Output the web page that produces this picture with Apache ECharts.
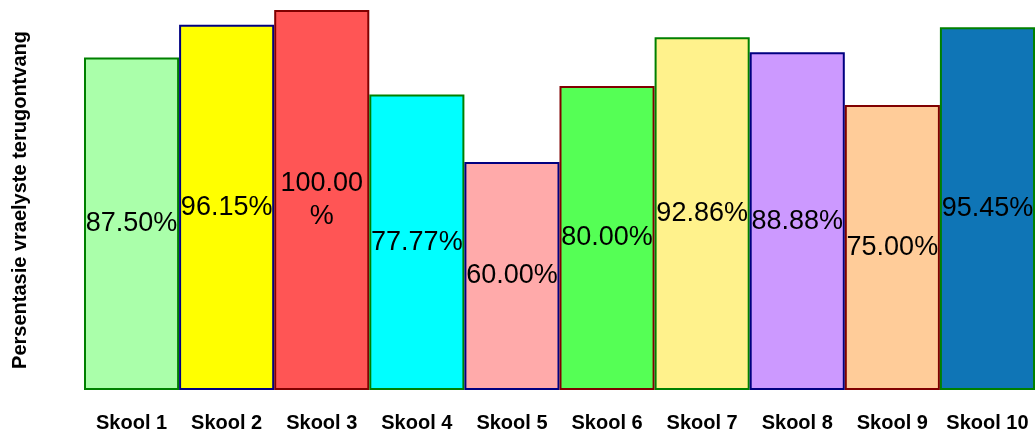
<!DOCTYPE html>
<html>
<head>
<meta charset="utf-8">
<script src="https://cdn.jsdelivr.net/npm/echarts@6/dist/echarts.min.js"></script>
<style>html,body{margin:0;padding:0;background:#fff}#c{width:1036px;height:431px}</style>
</head>
<body>
<div id="c"></div>
<script>
const categories = ['Skool 1','Skool 2','Skool 3','Skool 4','Skool 5','Skool 6','Skool 7','Skool 8','Skool 9','Skool 10'];
const values = [87.50, 96.15, 100.00, 77.77, 60.00, 80.00, 92.86, 88.88, 75.00, 95.45];
const fillColors = ['#AAFFAA','#FFFF00','#FF5555','#00FFFF','#FFAAAA','#55FF55','#FFF28C','#CC99FF','#FFCC99','#0F75B6'];
const borderColors = ['#008000','#000080','#800000','#008000','#000080','#800000','#008000','#000080','#800000','#008000'];
const yTitle = 'Persentasie vraelyste terugontvang';

const chart = echarts.init(document.getElementById('c'), null, {renderer:'canvas'});
chart.setOption({
  animation: false,
  grid: {left: 84, right: 1, top: 10, bottom: 41, outerBoundsMode: 'none', containLabel: false},
  xAxis: {
    type: 'category',
    data: categories,
    axisLine: {show: false},
    axisTick: {show: false},
    axisLabel: {
      color: '#000', fontFamily: 'Liberation Sans, Arial, sans-serif',
      fontWeight: 'bold', fontSize: 20, margin: 23, interval: 0
    }
  },
  yAxis: {
    type: 'value', min: 0, max: 100,
    axisLine: {show: false}, axisTick: {show: false}, axisLabel: {show: false},
    splitLine: {show: false},
    name: yTitle, nameLocation: 'middle', nameGap: 54,
    nameTextStyle: {color: '#000', fontFamily: 'Liberation Sans, Arial, sans-serif', fontWeight: 'bold', fontSize: 20}
  },
  series: [{
    type: 'bar',
    barCategoryGap: '0%',
    data: values.map((v, i) => ({
      value: v,
      itemStyle: {color: fillColors[i], borderColor: borderColors[i], borderWidth: 2}
    })),
    label: {
      show: true, position: 'inside',
      formatter: p => p.value.toFixed(2) + '%',
      color: '#000', fontFamily: 'Liberation Sans, Arial, sans-serif',
      fontSize: 27, width: 94, overflow: 'breakAll', lineHeight: 33, align: 'center'
    }
  }]
});
</script>
</body>
</html>
